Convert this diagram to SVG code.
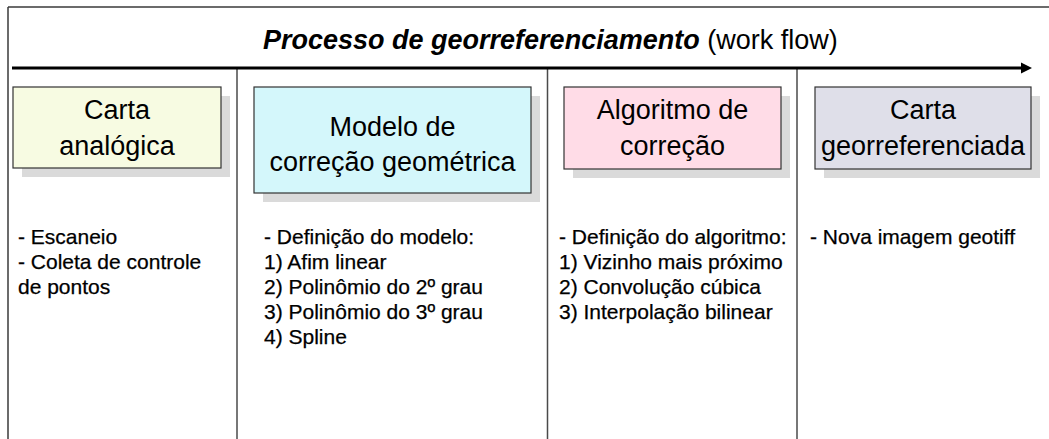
<svg xmlns="http://www.w3.org/2000/svg" width="1049" height="439" viewBox="0 0 1049 439">
<style>
.frame{stroke:#3a3a3a;stroke-width:1.5;fill:none}
.div{stroke:#4a4a4a;stroke-width:1.5;fill:none}
.box{stroke:#333;stroke-width:1.2}
.shadow{fill:#dadada}
.ttl{font-family:"Liberation Sans",Arial,sans-serif;font-size:27px;fill:#000;text-anchor:middle}
.body{font-family:"Liberation Sans",Arial,sans-serif;font-size:21px;fill:#000;stroke:#000;stroke-width:0.25}
.head{font-family:"Liberation Sans",Arial,sans-serif;font-size:27px;fill:#000}
</style>
<rect width="1049" height="439" fill="#fff"/>
<g id="frame">
<line class="frame" x1="8" y1="7" x2="1049" y2="7"/>
<line class="frame" x1="8" y1="7" x2="8" y2="439"/>
<line class="div" x1="237" y1="68" x2="237" y2="439"/>
<line class="div" x1="547.5" y1="68" x2="547.5" y2="439"/>
<line class="div" x1="797" y1="68" x2="797" y2="439"/>
</g>
<text class="head" x="263" y="49"><tspan font-weight="bold" font-style="italic">Processo de georreferenciamento</tspan> (work flow)</text>
<g id="connectors">
<line x1="12" y1="68" x2="1022" y2="68" stroke="#000" stroke-width="3"/>
<polygon points="1021,62.5 1032,68 1021,73.5" fill="#000"/>
</g>
<g id="n1">
<rect class="shadow" x="22" y="96" width="208" height="81"/>
<rect class="box" x="13" y="87" width="208" height="81" fill="#f7fbe2"/>
<text class="ttl" x="117" y="119">Carta</text>
<text class="ttl" x="117" y="155">analógica</text>
<text class="body" x="18" y="244">- Escaneio</text>
<text class="body" x="18" y="269">- Coleta de controle</text>
<text class="body" x="18" y="294">de pontos</text>
</g>
<g id="n2">
<rect class="shadow" x="263" y="96" width="277" height="106"/>
<rect class="box" x="254" y="87" width="277" height="106" fill="#d4f7fb"/>
<text class="ttl" x="392.5" y="136">Modelo de</text>
<text class="ttl" x="392.5" y="171">correção geométrica</text>
<text class="body" x="264" y="244">- Definição do modelo:</text>
<text class="body" x="264" y="269">1) Afim linear</text>
<text class="body" x="264" y="294">2) Polinômio do 2º grau</text>
<text class="body" x="264" y="319">3) Polinômio do 3º grau</text>
<text class="body" x="264" y="344">4) Spline</text>
</g>
<g id="n3">
<rect class="shadow" x="573" y="96" width="217" height="82"/>
<rect class="box" x="564" y="87" width="217" height="82" fill="#ffdce7"/>
<text class="ttl" x="672.5" y="119">Algoritmo de</text>
<text class="ttl" x="672.5" y="155">correção</text>
<text class="body" x="559" y="244">- Definição do algoritmo:</text>
<text class="body" x="559" y="269">1) Vizinho mais próximo</text>
<text class="body" x="559" y="294">2) Convolução cúbica</text>
<text class="body" x="559" y="319">3) Interpolação bilinear</text>
</g>
<g id="n4">
<rect class="shadow" x="824" y="96" width="216" height="82"/>
<rect class="box" x="815" y="87" width="216" height="82" fill="#dfdfe9"/>
<text class="ttl" x="923" y="119">Carta</text>
<text class="ttl" x="923" y="155">georreferenciada</text>
<text class="body" x="810" y="244">- Nova imagem geotiff</text>
</g>
</svg>
